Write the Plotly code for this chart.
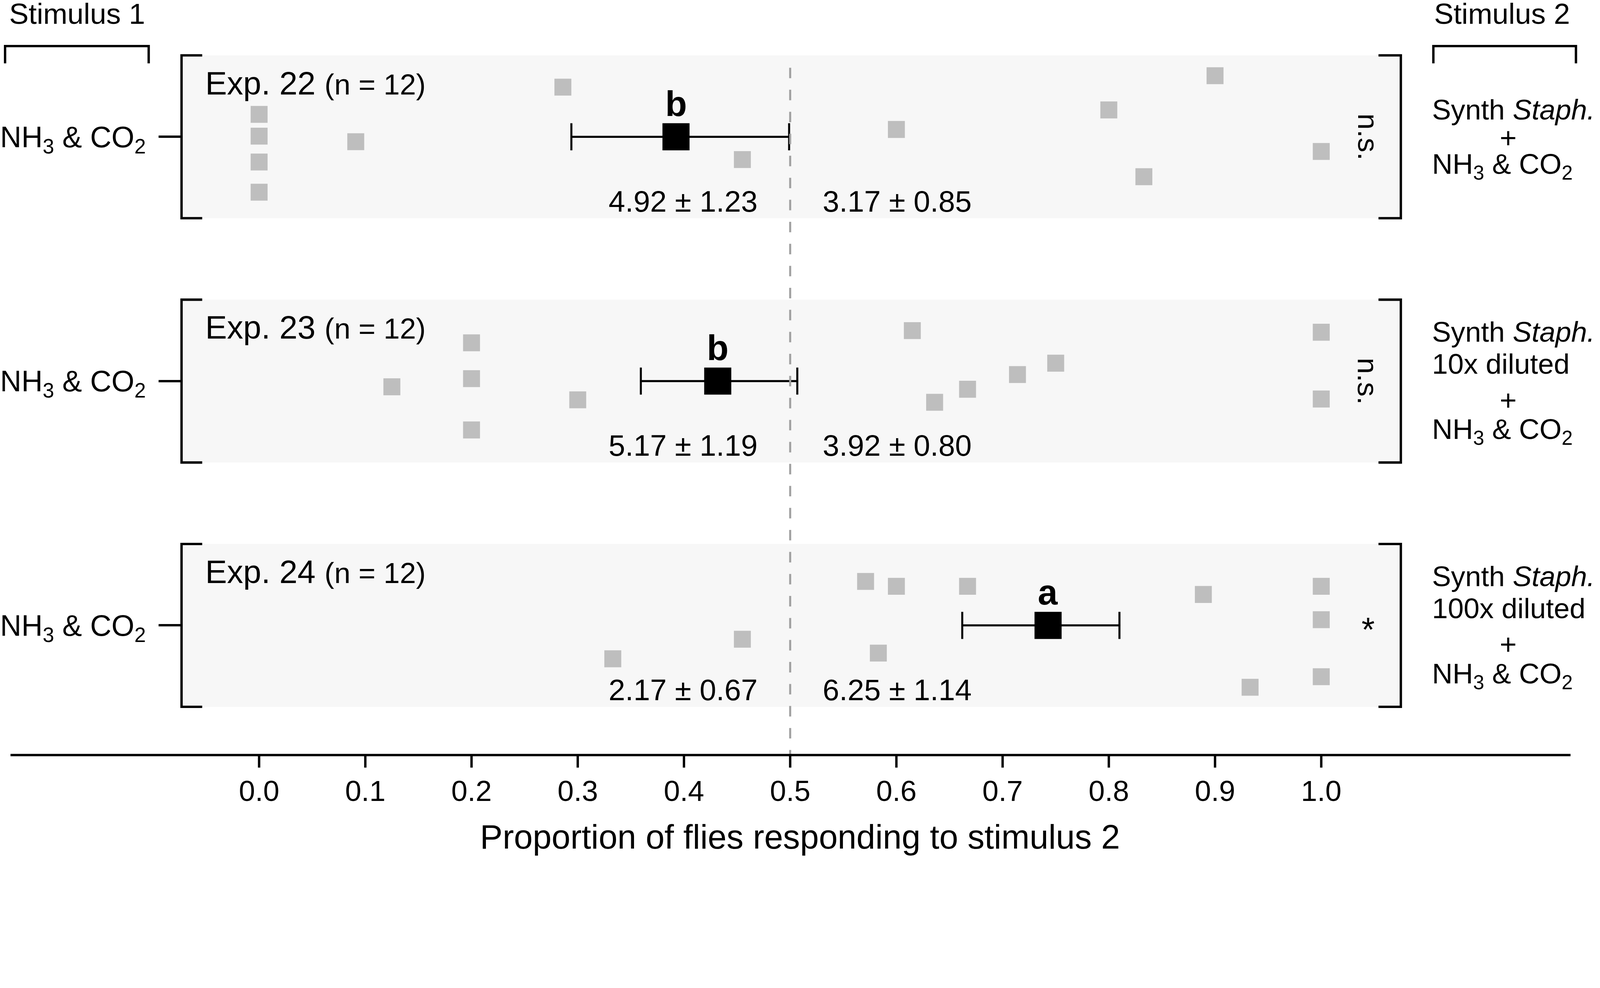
import plotly.graph_objects as go

# ---------------- data ----------------
experiments = ["Exp. 22", "Exp. 23", "Exp. 24"]
n_flies = [12, 12, 12]
stim1_label = "NH<sub>3</sub> & CO<sub>2</sub>"
stim2_lines = [
    ["Synth <i>Staph.</i>", "+", "NH<sub>3</sub> & CO<sub>2</sub>"],
    ["Synth <i>Staph.</i>", "10x diluted", "+", "NH<sub>3</sub> & CO<sub>2</sub>"],
    ["Synth <i>Staph.</i>", "100x diluted", "+", "NH<sub>3</sub> & CO<sub>2</sub>"],
]

# individual replicate proportions and their vertical jitter (panel units)
exp22_x = [0.0, 0.0, 0.0, 0.0, 0.091, 0.286, 0.455, 0.6, 0.8, 0.9, 0.833, 1.0]
exp22_j = [0.275, 0.008, -0.31, -0.68, -0.06, 0.61, -0.28, 0.09, 0.33, 0.75, -0.49, -0.18]
exp23_x = [0.125, 0.2, 0.2, 0.2, 0.3, 0.615, 0.636, 0.667, 0.714, 0.75, 1.0, 1.0]
exp23_j = [-0.07, 0.47, 0.03, -0.60, -0.23, 0.62, -0.26, -0.10, 0.08, 0.22, 0.60, -0.22]
exp24_x = [0.333, 0.455, 0.571, 0.6, 0.583, 0.667, 0.889, 0.933, 1.0, 1.0, 1.0]
exp24_j = [-0.41, -0.17, 0.54, 0.48, -0.34, 0.48, 0.38, -0.76, 0.48, 0.07, -0.63]
points_x = [exp22_x, exp23_x, exp24_x]
points_j = [exp22_j, exp23_j, exp24_j]

mean_prop = [0.3925, 0.4318, 0.7428]
err_low = [0.294, 0.3594, 0.662]
err_high = [0.499, 0.5067, 0.810]
letters = ["b", "b", "a"]
count_stim1 = ["4.92 ± 1.23", "5.17 ± 1.19", "2.17 ± 0.67"]
count_stim2 = ["3.17 ± 0.85", "3.92 ± 0.80", "6.25 ± 1.14"]
significance = ["n.s.", "n.s.", "*"]

tick_vals = [0.0, 0.1, 0.2, 0.3, 0.4, 0.5, 0.6, 0.7, 0.8, 0.9, 1.0]
x_title = "Proportion of flies responding to stimulus 2"

# ---------------- layout geometry ----------------
W, H = 4724, 2530
X0PX, XSCALE = 765.0, 3136.0      # px of x=0, px per unit
Y0PX, YSCALE = 404.0, 240.5       # px of panel-1 centre, px per panel unit
AXIS_PX = 2230.0
TICK_LEN = 37.0
LABEL_AXIS_PX = 2278.0             # position of the (tick-less) label axis
AX_L, AX_R = 31.0, 4637.0          # extent of the bottom axis line


def px2x(px):
    return (px - X0PX) / XSCALE


def px2y(py):
    return (Y0PX - py) / YSCALE


def pxp(px):          # paper x
    return px / W


def pyp(py):          # paper y
    return 1 - py / H


centres = [0.0, -3.0, -6.0]
FONT = "Liberation Sans, Arial, sans-serif"
GREY = "#bebebe"
BG = "#f7f7f7"
LW = 7

fig = go.Figure()

# replicate points
for c, xs, js in zip(centres, points_x, points_j):
    fig.add_trace(go.Scatter(
        x=xs, y=[c + j for j in js], mode="markers",
        marker=dict(symbol="square", size=50, color=GREY, line=dict(width=0)),
        hoverinfo="skip", showlegend=False))

# means with error bars
fig.add_trace(go.Scatter(
    x=mean_prop, y=centres, mode="markers",
    marker=dict(symbol="square", size=80, color="black", line=dict(width=0)),
    error_x=dict(type="data", symmetric=False,
                 array=[h - m for h, m in zip(err_high, mean_prop)],
                 arrayminus=[m - l for m, l in zip(mean_prop, err_low)],
                 thickness=6, width=40, color="black"),
    showlegend=False))

# invisible anchor trace for the label axis
fig.add_trace(go.Scatter(x=[mean_prop[0]], y=[centres[0]], xaxis="x2", mode="markers",
                         marker=dict(opacity=0, size=1), hoverinfo="skip", showlegend=False))

shapes = []
annotations = []
for i, c in enumerate(centres):
    top, bot = c + 1.0, c - 1.0
    # panel background
    shapes.append(dict(type="rect", x0=px2x(536), x1=px2x(4136), y0=bot, y1=top,
                       fillcolor=BG, line=dict(width=0), layer="below"))
    # left bracket
    shapes.append(dict(type="path",
                       path=f"M {px2x(597)},{top} L {px2x(536)},{top} L {px2x(536)},{bot} L {px2x(597)},{bot}",
                       line=dict(color="black", width=LW)))
    # right bracket
    shapes.append(dict(type="path",
                       path=f"M {px2x(4070)},{top} L {px2x(4136)},{top} L {px2x(4136)},{bot} L {px2x(4070)},{bot}",
                       line=dict(color="black", width=LW)))
    # experiment label
    annotations.append(dict(
        x=px2x(604), y=c + 0.66, xanchor="left", yanchor="middle", showarrow=False,
        text=f"{experiments[i]} <span style='font-size:86px'>(n = {n_flies[i]})</span>",
        font=dict(size=96, family=FONT, color="black")))
    # letter
    annotations.append(dict(
        x=mean_prop[i], y=c + 0.41, xanchor="center", yanchor="middle", showarrow=False,
        text=f"<b>{letters[i]}</b>", font=dict(size=105, family=FONT, color="black")))
    # counts
    annotations.append(dict(
        x=px2x(2239), y=c - 0.79, xanchor="right", yanchor="middle", showarrow=False,
        text=count_stim1[i], font=dict(size=88, family=FONT, color="black")))
    annotations.append(dict(
        x=px2x(2427), y=c - 0.79, xanchor="left", yanchor="middle", showarrow=False,
        text=count_stim2[i], font=dict(size=88, family=FONT, color="black")))
    # significance
    if significance[i] == "*":
        annotations.append(dict(
            x=px2x(4039), y=c - 0.05, xanchor="center", yanchor="middle", showarrow=False,
            text="*", font=dict(size=100, family=FONT, color="black")))
    else:
        annotations.append(dict(
            x=px2x(4040), y=c, xanchor="center", yanchor="middle", showarrow=False,
            textangle=90, text=significance[i], font=dict(size=86, family=FONT, color="black")))
    # stimulus-2 description lines
    lines = stim2_lines[i]
    if len(lines) == 3:
        offs = [0.333, -0.012, -0.358]
    else:
        offs = [0.605, 0.208, -0.233, -0.615]
    for txt, o in zip(lines, offs):
        if txt == "+":
            annotations.append(dict(x=pxp(4453), y=c + o, xref="paper", xanchor="center",
                                    yanchor="middle", showarrow=False, text=txt,
                                    font=dict(size=86, family=FONT, color="black")))
        else:
            annotations.append(dict(x=pxp(4226), y=c + o, xref="paper", xanchor="left",
                                    yanchor="middle", showarrow=False, text=txt,
                                    font=dict(size=84, family=FONT, color="black")))

# dashed reference line at 0.5
shapes.append(dict(type="line", x0=0.5, x1=0.5, y0=px2y(200), y1=px2y(AXIS_PX),
                   line=dict(color="#a0a0a0", width=6, dash="31px,34px"), layer="above"))
# bottom axis line and its tick marks (data coordinates, inside the plot area)
shapes.append(dict(type="line", x0=px2x(AX_L), x1=px2x(AX_R),
                   y0=px2y(AXIS_PX), y1=px2y(AXIS_PX),
                   line=dict(color="black", width=LW)))
for v in tick_vals:
    shapes.append(dict(type="line", x0=v, x1=v,
                       y0=px2y(AXIS_PX), y1=px2y(AXIS_PX + TICK_LEN),
                       line=dict(color="black", width=LW)))
# stimulus brackets at the top
for xa, xb in [(15, 439), (4232, 4653)]:
    shapes.append(dict(type="path", xref="paper", yref="paper",
                       path=f"M {pxp(xa)},{pyp(187)} L {pxp(xa)},{pyp(136)} L {pxp(xb)},{pyp(136)} L {pxp(xb)},{pyp(187)}",
                       line=dict(color="black", width=LW)))
annotations.append(dict(x=pxp(25), y=pyp(40), xref="paper", yref="paper",
                        xanchor="left", yanchor="middle", showarrow=False,
                        text="Stimulus 1", font=dict(size=86, family=FONT, color="black")))
annotations.append(dict(x=pxp(4232), y=pyp(40), xref="paper", yref="paper",
                        xanchor="left", yanchor="middle", showarrow=False,
                        text="Stimulus 2", font=dict(size=86, family=FONT, color="black")))

y_rng = [px2y(H), px2y(0)]
x_rng = [px2x(0), px2x(W)]

fig.update_layout(
    width=W, height=H, margin=dict(l=0, r=0, t=0, b=0),
    paper_bgcolor="white", plot_bgcolor="white", showlegend=False,
    font=dict(family=FONT, color="black"),
    shapes=shapes, annotations=annotations,
    xaxis=dict(domain=[0, 1], range=x_rng, anchor="y", side="bottom",
               showline=False, showgrid=False, zeroline=False, ticks="",
               showticklabels=False, automargin=False),
    # tick labels + title
    xaxis2=dict(domain=[0, 1], range=x_rng, overlaying="x", anchor="free",
                position=pyp(LABEL_AXIS_PX), side="bottom",
                showline=False, showgrid=False, zeroline=False, ticks="",
                tickmode="array", tickvals=tick_vals, tickformat=".1f",
                tickfont=dict(size=86, family=FONT, color="black"),
                title=dict(text=x_title, font=dict(size=100, family=FONT, color="black"), standoff=54),
                automargin=False),
    yaxis=dict(domain=[0, 1], range=y_rng, anchor="free",
               position=536 / W, side="left", showline=False, showgrid=False, zeroline=False,
               ticks="outside", ticklen=68, tickwidth=LW, tickcolor="black",
               tickvals=centres, ticktext=[stim1_label] * 3,
               tickfont=dict(size=87, family=FONT, color="black"),
               ticklabelstandoff=20, automargin=False),
    yaxis2=dict(domain=[0, 1], range=y_rng, anchor="free", overlaying="y",
                position=4136 / W, side="right", showline=False, showgrid=False, zeroline=False,
                ticks="outside", ticklen=66, tickwidth=LW, tickcolor="black",
                tickvals=centres, showticklabels=False, automargin=False),
)

# fit the fixed-size figure exactly into the browser viewport
fit_js = (
    "document.documentElement.style.overflow='hidden';"
    "document.body.style.margin='0';document.body.style.overflow='hidden';"
    f"var k=Math.min(window.innerWidth/{W}, window.innerHeight/{H});"
    "if(k>0 && k<1){document.body.style.zoom=k;}"
)
fig.write_html("out.html", post_script=fit_js, config={"displayModeBar": False})
